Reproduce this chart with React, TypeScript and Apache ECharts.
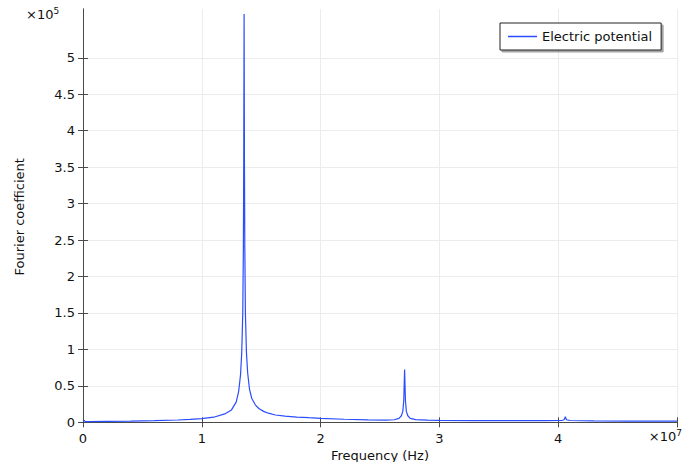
import React, { useEffect, useRef } from "react";
import * as echarts from "echarts";

// Frequency (Hz) and Fourier coefficient
const freqHz = [
  0, 1e5, 2e5, 5e5, 2e6, 4e6, 6e6, 8e6, 9e6, 1.0e7, 1.1e7, 1.2e7, 1.25e7,
  1.29e7, 1.31e7, 1.326e7, 1.336e7, 1.345e7, 1.35e7, 1.353e7, 1.356e7,
  1.359e7, 1.362e7, 1.367e7, 1.376e7, 1.386e7, 1.401e7, 1.42e7, 1.45e7,
  1.48e7, 1.52e7, 1.56e7, 1.62e7, 1.7e7, 1.8e7, 1.9e7, 2.0e7, 2.2e7, 2.4e7,
  2.55e7, 2.62e7, 2.66e7, 2.68e7, 2.692e7, 2.7e7, 2.707e7, 2.714e7, 2.722e7,
  2.734e7, 2.754e7, 2.8e7, 2.9e7, 3.0e7, 3.3e7, 3.6e7, 3.9e7, 4.03e7,
  4.05e7, 4.06e7, 4.07e7, 4.1e7, 4.3e7, 4.6e7, 5.0e7,
];
const fourierCoef = [
  1500, 2500, 900, 1000, 1300, 1700, 2200, 3200, 4000, 5000, 7000, 12000,
  17000, 28000, 42000, 65000, 95000, 150000, 240000, 360000, 560000, 360000,
  240000, 150000, 95000, 68000, 46000, 33000, 24000, 19000, 15000, 12500,
  10000, 8500, 7200, 6300, 5500, 4200, 3300, 3000, 3500, 5500, 9000, 15000,
  30000, 72500, 30000, 15000, 9000, 5500, 3700, 2900, 2600, 2400, 2300, 2300,
  2500, 3500, 7500, 3500, 2500, 2000, 1700, 1500,
];
const seriesName = "Electric potential";
const xTickValues = [0, 1e7, 2e7, 3e7, 4e7, 5e7];
const yTickValues = [0, 5e4, 1e5, 1.5e5, 2e5, 2.5e5, 3e5, 3.5e5, 4e5, 4.5e5, 5e5];
const xTitle = "Frequency (Hz)";
const yTitle = "Fourier coefficient";

const FONT = "DejaVu Sans";
const FS = 13;
const LINE_COLOR = "#2b4dff";
const AXIS_COLOR = "#4a4a4a";

export default function App() {
  const ref = useRef<HTMLDivElement>(null);
  useEffect(() => {
    const chart = echarts.init(ref.current!, null, { renderer: "svg" });
    const data = freqHz.map((f, i) => [f, fourierCoef[i]]);
    const xRange = { min: 0, max: 5e7 };
    const yRange = { min: -3000, max: 5.67e5 };
    const baseTick = { inside: true, length: 5, lineStyle: { color: AXIS_COLOR } };
    const sup = {
      a: { fontFamily: FONT, fontSize: FS, fill: "#111", lineHeight: 16 },
      b: { fontFamily: FONT, fontSize: 9, fill: "#111", verticalAlign: "top", lineHeight: 10 },
    };
    chart.setOption({
      animation: false,
      backgroundColor: "#fff",
      textStyle: { fontFamily: FONT },
      grid: { left: 83, right: 17, top: 9, bottom: 37.5, outerBoundsMode: "none", containLabel: false },
      legend: {
        data: [seriesName],
        left: 500,
        top: 23,
        padding: [7, 9, 7, 8],
        itemWidth: 29,
        itemHeight: 1.5,
        icon: "rect",
        backgroundColor: "#fff",
        borderColor: "#222",
        borderWidth: 1,
        borderRadius: 0,
        shadowColor: "rgba(0,0,0,0.35)",
        shadowBlur: 1,
        shadowOffsetX: 2,
        shadowOffsetY: 2,
        textStyle: { fontFamily: FONT, fontSize: FS, color: "#111" },
      },
      xAxis: [
        {
          type: "value",
          ...xRange,
          interval: 1e7,
          name: xTitle,
          nameLocation: "middle",
          nameGap: 16,
          nameTextStyle: { fontFamily: FONT, fontSize: FS, color: "#111" },
          axisLine: { show: true, lineStyle: { color: AXIS_COLOR, width: 1 } },
          axisTick: { ...baseTick, customValues: xTickValues },
          axisLabel: {
            customValues: xTickValues.slice(0, 5),
            formatter: (v: number) => String(v / 1e7),
            fontFamily: FONT,
            fontSize: FS,
            color: "#111",
            margin: 7,
          },
          splitLine: { show: true, lineStyle: { color: "#ececec", width: 1 } },
        },
        {
          type: "value",
          position: "top",
          ...xRange,
          interval: 1e7,
          axisLine: { show: true, lineStyle: { color: AXIS_COLOR, width: 1 } },
          axisTick: { ...baseTick, customValues: xTickValues },
          axisLabel: { show: false },
          splitLine: { show: false },
        },
      ],
      yAxis: [
        {
          type: "value",
          ...yRange,
          name: yTitle,
          nameLocation: "middle",
          nameGap: 57,
          nameTextStyle: { fontFamily: FONT, fontSize: FS, color: "#111" },
          axisLine: { show: true, lineStyle: { color: AXIS_COLOR, width: 1 } },
          axisTick: { ...baseTick, customValues: yTickValues },
          axisLabel: {
            customValues: yTickValues,
            formatter: (v: number) => String(v / 1e5),
            fontFamily: FONT,
            fontSize: FS,
            color: "#111",
            margin: 8,
          },
          splitLine: { show: true, lineStyle: { color: "#ececec", width: 1 } },
        },
        {
          type: "value",
          position: "right",
          ...yRange,
          axisLine: { show: true, lineStyle: { color: AXIS_COLOR, width: 1 } },
          axisTick: { ...baseTick, customValues: yTickValues },
          axisLabel: { show: false },
          splitLine: { show: false },
        },
      ],
      graphic: [
        {
          type: "text",
          left: 26,
          top: 6,
          style: { text: "{a|×10}{b|5}", rich: sup },
        },
        {
          type: "text",
          right: 12,
          top: 428,
          style: { text: "{a|×10}{b|7}", rich: sup },
        },
      ],
      series: [
        {
          name: seriesName,
          type: "line",
          data,
          xAxisIndex: 0,
          yAxisIndex: 0,
          showSymbol: false,
          symbol: "none",
          color: LINE_COLOR,
          lineStyle: { color: LINE_COLOR, width: 1.2 },
        },
      ],
    });
    return () => chart.dispose();
  }, []);
  return (
    <div
      ref={ref}
      style={{ position: "absolute", left: 0, top: 0, width: 694, height: 462 }}
    />
  );
}
